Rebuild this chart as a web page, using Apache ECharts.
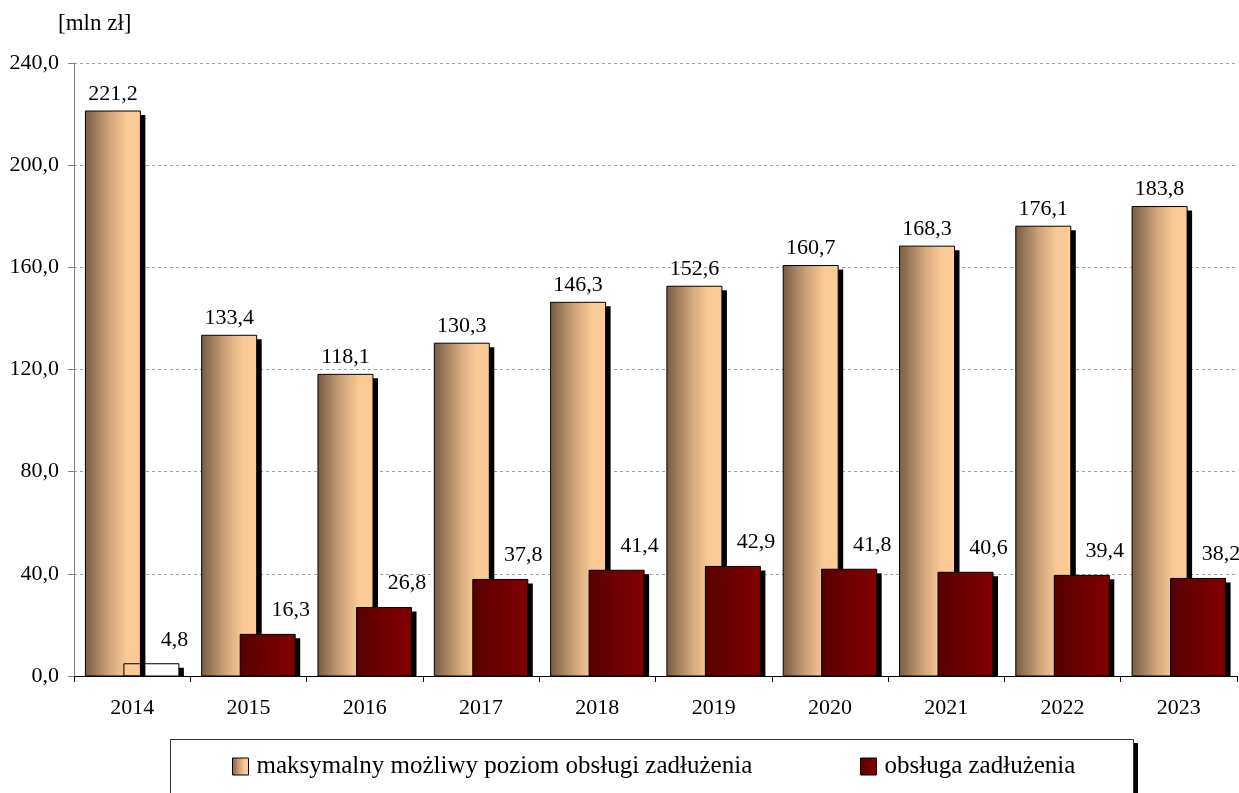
<!DOCTYPE html>
<html>
<head>
<meta charset="utf-8">
<script src="https://cdn.jsdelivr.net/npm/echarts@6/dist/echarts.min.js"></script>
<style>
html,body{margin:0;padding:0;background:#fff;}
#chart{width:1239px;height:793px;}
</style>
</head>
<body>
<div id="chart"></div>
<script>
var years = ['2014','2015','2016','2017','2018','2019','2020','2021','2022','2023'];
var maxLevel = [221.2,133.4,118.1,130.3,146.3,152.6,160.7,168.3,176.1,183.8];
var debtService = [4.8,16.3,26.8,37.8,41.4,42.9,41.8,40.6,39.4,38.2];
var seriesNames = ['maksymalny możliwy poziom obsługi zadłużenia','obsługa zadłużenia'];
var yTicks = [0,40,80,120,160,200,240];
var unitLabel = '[mln zł]';

var FONT = '"Liberation Serif","Times New Roman",serif';
function fmt(v){ return Number(v).toFixed(1).replace('.', ','); }

function tanGrad(){
  return new echarts.graphic.LinearGradient(0,0,1,0,[
    {offset:0,color:'#7a5d44'},
    {offset:0.45,color:'#d2a67c'},
    {offset:0.75,color:'#fac996'},
    {offset:1,color:'#fccb98'}
  ]);
}
function redGrad(){
  return new echarts.graphic.LinearGradient(0,0,1,0,[
    {offset:0,color:'#560000'},
    {offset:0.5,color:'#6e0000'},
    {offset:1,color:'#820000'}
  ]);
}

var BAR_W = 55, SH_X = 5, SH_Y = 4;
var OFFS = [-19.25, 19.25];

function makeRender(seriesIdx){
  return function(params, api){
    var idx = api.value(0), val = api.value(1);
    var top = api.coord([idx, val]);
    var base = api.coord([idx, 0]);
    var x = top[0] + OFFS[seriesIdx] - BAR_W/2;
    var y = top[1];
    var h = base[1] - top[1];
    var special = (seriesIdx === 1 && idx === 0);
    var zb = seriesIdx === 0 ? 10 : 20;
    var fill = seriesIdx === 0 ? tanGrad() : redGrad();
    var zs = zb, zf = zb + 1;
    if (special) { fill = '#ffffff'; zs = 1; zf = 2; }
    var children = [
      {type:'rect', z2:zs, shape:{x:x+SH_X, y:y+SH_Y, width:BAR_W, height:Math.max(h-SH_Y,0)},
       style:{fill:'#000'}},
      {type:'rect', z2:zf, shape:{x:x, y:y, width:BAR_W, height:h},
       style:{fill:fill}},
      {type:'rect', z2:zb+5, shape:{x:x, y:y, width:BAR_W, height:h},
       style:{fill:null, stroke:'#000', lineWidth:1}}
    ];
    var lx = seriesIdx === 0 ? x + BAR_W/2 : x + BAR_W/2 + 23;
    var ly = seriesIdx === 0 ? y - 6 : y - 13;
    children.push({type:'text', z2:30, x:lx, y:ly,
      style:{text:fmt(val), fill:'#000', font:'22px '+FONT, align:'center', verticalAlign:'bottom'}});
    return {type:'group', children:children};
  };
}

var chart = echarts.init(document.getElementById('chart'), null, {renderer:'canvas'});
chart.setOption({
  animation:false,
  backgroundColor:'#fff',
  textStyle:{fontFamily:FONT},
  grid:{left:74,right:2,top:63,bottom:117,containLabel:false},
  graphic:[
    {type:'rect',left:175,top:743,z:-2,
     shape:{width:963,height:80},
     style:{fill:'#000'}},
    {type:'rect',left:170,top:739,z:-1,
     shape:{width:963,height:80},
     style:{fill:'#fff',stroke:'#333',lineWidth:1}},
    {type:'text',left:58,top:12,
     style:{text:unitLabel,font:'23px '+FONT,fill:'#000'}}
  ],
  legend:[
    {data:[seriesNames[0]],left:232,top:754,padding:0,itemWidth:16,itemHeight:17,icon:'rect',
     itemStyle:{borderColor:'#000',borderWidth:1},
     textStyle:{fontFamily:FONT,fontSize:25,color:'#000',padding:[0,0,0,3]}},
    {data:[seriesNames[1]],left:860,top:754,padding:0,itemWidth:16,itemHeight:17,icon:'rect',
     itemStyle:{borderColor:'#000',borderWidth:1},
     textStyle:{fontFamily:FONT,fontSize:25,color:'#000',padding:[0,0,0,3]}}
  ],
  xAxis:{
    type:'category',data:years,
    axisLine:{lineStyle:{color:'#000',width:1}},
    axisTick:{show:true,length:6,lineStyle:{color:'#000'}},
    axisLabel:{fontFamily:FONT,fontSize:22,color:'#000',margin:21}
  },
  yAxis:{
    type:'value',min:yTicks[0],max:yTicks[yTicks.length-1],interval:yTicks[1]-yTicks[0],
    axisLine:{show:true,lineStyle:{color:'#808080'}},
    axisTick:{show:true,length:6,lineStyle:{color:'#808080'}},
    axisLabel:{fontFamily:FONT,fontSize:22,color:'#000',margin:15,formatter:fmt},
    splitLine:{show:true,lineStyle:{color:'#a0a0a0',type:[3,3],width:1}}
  },
  series:[
    {name:seriesNames[0],type:'custom',renderItem:makeRender(0),
     encode:{x:0,y:1},
     data:maxLevel.map(function(v,i){return [i,v];}),
     itemStyle:{color:tanGrad(),borderColor:'#000',borderWidth:1}},
    {name:seriesNames[1],type:'custom',renderItem:makeRender(1),
     encode:{x:0,y:1},
     data:debtService.map(function(v,i){return [i,v];}),
     itemStyle:{color:redGrad(),borderColor:'#000',borderWidth:1}}
  ]
});
</script>
</body>
</html>
